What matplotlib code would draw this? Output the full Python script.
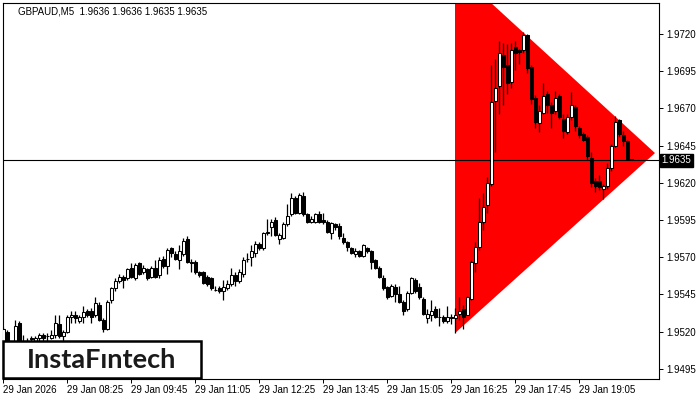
import matplotlib
matplotlib.use("Agg")
import matplotlib.pyplot as plt
import matplotlib.transforms as mtransforms
from matplotlib.patches import Polygon, Rectangle
import numpy as np

plt.rcParams["font.family"] = ["Liberation Sans", "DejaVu Sans"]

symbol = "GBPAUD,M5"
ohlc_last = ["1.9636", "1.9636", "1.9635", "1.9635"]
last_price = 1.9635

# GBPAUD M5 candles, 29 Jan 2026 from 07:05
opens = [
    1.9511, 1.9520, 1.9510, 1.9512, 1.9526, 1.9513, 1.9513, 1.9516, 1.9514, 1.9516,
    1.9518, 1.9517, 1.9516, 1.9518, 1.9525, 1.9517, 1.9520, 1.9530, 1.9531, 1.9527,
    1.9530, 1.9534, 1.9534, 1.9531, 1.9538, 1.9528, 1.9522, 1.9541, 1.9549, 1.9554,
    1.9557, 1.9556, 1.9563, 1.9556, 1.9566, 1.9560, 1.9562, 1.9557, 1.9563, 1.9558,
    1.9569, 1.9564, 1.9576, 1.9572, 1.9568, 1.9572, 1.9582, 1.9567, 1.9567, 1.9560,
    1.9560, 1.9557, 1.9556, 1.9548, 1.9549, 1.9547, 1.9549, 1.9552, 1.9558, 1.9554,
    1.9559, 1.9569, 1.9570, 1.9573, 1.9579, 1.9576, 1.9586, 1.9590, 1.9595, 1.9582,
    1.9583, 1.9592, 1.9599, 1.9610, 1.9600, 1.9611, 1.9599, 1.9594, 1.9594, 1.9599,
    1.9595, 1.9594, 1.9586, 1.9592, 1.9591, 1.9583, 1.9580, 1.9576, 1.9572, 1.9574,
    1.9571, 1.9576, 1.9574, 1.9568, 1.9563, 1.9556, 1.9550, 1.9544, 1.9550, 1.9545,
    1.9540, 1.9535, 1.9546, 1.9555, 1.9550, 1.9542, 1.9529, 1.9531, 1.9535, 1.9530,
    1.9530, 1.9527, 1.9530, 1.9529, 1.9532, 1.9535, 1.9531, 1.9542, 1.9566, 1.9577,
    1.9594, 1.9605, 1.9619, 1.9675, 1.9685, 1.9706, 1.9699, 1.9688, 1.9711, 1.9709,
    1.9709, 1.9719, 1.9698, 1.9677, 1.9660, 1.9667, 1.9680, 1.9672, 1.9668, 1.9678,
    1.9663, 1.9654, 1.9664, 1.9671, 1.9657, 1.9653, 1.9651, 1.9637, 1.9621, 1.9621,
    1.9616, 1.9618, 1.9630, 1.9645, 1.9662, 1.9652, 1.9648, 1.9636,
]
highs = [
    1.9523, 1.9521, 1.9513, 1.9528, 1.9527, 1.9518, 1.9516, 1.9517, 1.9517, 1.9519,
    1.9519, 1.9519, 1.9521, 1.9531, 1.9531, 1.9521, 1.9531, 1.9534, 1.9534, 1.9531,
    1.9537, 1.9535, 1.9536, 1.9543, 1.9540, 1.9529, 1.9541, 1.9550, 1.9556, 1.9559,
    1.9558, 1.9563, 1.9566, 1.9566, 1.9567, 1.9565, 1.9563, 1.9564, 1.9568, 1.9570,
    1.9571, 1.9576, 1.9577, 1.9574, 1.9578, 1.9583, 1.9584, 1.9569, 1.9568, 1.9561,
    1.9561, 1.9558, 1.9557, 1.9551, 1.9551, 1.9555, 1.9555, 1.9563, 1.9560, 1.9562,
    1.9570, 1.9573, 1.9578, 1.9581, 1.9580, 1.9587, 1.9596, 1.9596, 1.9597, 1.9586,
    1.9594, 1.9606, 1.9613, 1.9611, 1.9613, 1.9614, 1.9600, 1.9598, 1.9600, 1.9601,
    1.9600, 1.9595, 1.9594, 1.9593, 1.9593, 1.9586, 1.9581, 1.9577, 1.9576, 1.9575,
    1.9579, 1.9577, 1.9575, 1.9569, 1.9564, 1.9558, 1.9551, 1.9552, 1.9552, 1.9551,
    1.9541, 1.9547, 1.9557, 1.9556, 1.9553, 1.9543, 1.9535, 1.9541, 1.9537, 1.9536,
    1.9531, 1.9537, 1.9532, 1.9536, 1.9543, 1.9538, 1.9544, 1.9568, 1.9580, 1.9610,
    1.9613, 1.9624, 1.9699, 1.9703, 1.9715, 1.9714, 1.9713, 1.9714, 1.9715, 1.9710,
    1.9721, 1.9720, 1.9699, 1.9679, 1.9672, 1.9687, 1.9682, 1.9674, 1.9682, 1.9680,
    1.9666, 1.9666, 1.9681, 1.9672, 1.9658, 1.9654, 1.9652, 1.9641, 1.9623, 1.9625,
    1.9619, 1.9633, 1.9646, 1.9665, 1.9663, 1.9655, 1.9649, 1.9636,
]
lows = [
    1.9509, 1.9510, 1.9508, 1.9511, 1.9512, 1.9510, 1.9510, 1.9512, 1.9513, 1.9514,
    1.9514, 1.9513, 1.9515, 1.9516, 1.9516, 1.9514, 1.9519, 1.9526, 1.9526, 1.9526,
    1.9526, 1.9530, 1.9526, 1.9530, 1.9527, 1.9520, 1.9521, 1.9539, 1.9547, 1.9553,
    1.9549, 1.9555, 1.9556, 1.9555, 1.9558, 1.9559, 1.9555, 1.9556, 1.9556, 1.9556,
    1.9563, 1.9559, 1.9570, 1.9568, 1.9562, 1.9571, 1.9566, 1.9560, 1.9559, 1.9557,
    1.9552, 1.9551, 1.9548, 1.9547, 1.9546, 1.9541, 1.9548, 1.9551, 1.9551, 1.9553,
    1.9557, 1.9567, 1.9564, 1.9570, 1.9575, 1.9575, 1.9585, 1.9584, 1.9584, 1.9579,
    1.9582, 1.9591, 1.9598, 1.9599, 1.9599, 1.9598, 1.9593, 1.9593, 1.9593, 1.9593,
    1.9592, 1.9586, 1.9582, 1.9588, 1.9582, 1.9579, 1.9574, 1.9572, 1.9570, 1.9570,
    1.9570, 1.9573, 1.9562, 1.9562, 1.9556, 1.9548, 1.9542, 1.9543, 1.9540, 1.9539,
    1.9531, 1.9534, 1.9545, 1.9546, 1.9542, 1.9531, 1.9526, 1.9527, 1.9529, 1.9524,
    1.9526, 1.9526, 1.9525, 1.9519, 1.9528, 1.9522, 1.9531, 1.9541, 1.9560, 1.9575,
    1.9588, 1.9600, 1.9618, 1.9641, 1.9666, 1.9672, 1.9680, 1.9684, 1.9696, 1.9700,
    1.9707, 1.9694, 1.9673, 1.9657, 1.9654, 1.9666, 1.9667, 1.9657, 1.9666, 1.9663,
    1.9650, 1.9653, 1.9662, 1.9655, 1.9650, 1.9648, 1.9635, 1.9617, 1.9614, 1.9615,
    1.9609, 1.9616, 1.9628, 1.9644, 1.9651, 1.9645, 1.9635, 1.9635,
]
closes = [
    1.9522, 1.9512, 1.9512, 1.9524, 1.9514, 1.9511, 1.9512, 1.9515, 1.9516, 1.9518,
    1.9516, 1.9517, 1.9518, 1.9526, 1.9517, 1.9520, 1.9530, 1.9531, 1.9529, 1.9530,
    1.9533, 1.9531, 1.9530, 1.9539, 1.9528, 1.9522, 1.9540, 1.9549, 1.9554, 1.9557,
    1.9555, 1.9562, 1.9557, 1.9565, 1.9559, 1.9563, 1.9556, 1.9563, 1.9557, 1.9568,
    1.9564, 1.9575, 1.9573, 1.9569, 1.9574, 1.9581, 1.9567, 1.9566, 1.9560, 1.9558,
    1.9553, 1.9552, 1.9549, 1.9548, 1.9547, 1.9550, 1.9552, 1.9558, 1.9554, 1.9560,
    1.9568, 1.9569, 1.9574, 1.9579, 1.9576, 1.9586, 1.9587, 1.9594, 1.9585, 1.9585,
    1.9592, 1.9598, 1.9610, 1.9600, 1.9612, 1.9599, 1.9594, 1.9596, 1.9599, 1.9594,
    1.9594, 1.9587, 1.9593, 1.9590, 1.9584, 1.9580, 1.9577, 1.9573, 1.9574, 1.9571,
    1.9578, 1.9574, 1.9567, 1.9563, 1.9557, 1.9549, 1.9543, 1.9551, 1.9545, 1.9540,
    1.9534, 1.9546, 1.9556, 1.9547, 1.9543, 1.9532, 1.9532, 1.9534, 1.9530, 1.9530,
    1.9527, 1.9530, 1.9529, 1.9531, 1.9534, 1.9530, 1.9543, 1.9567, 1.9577, 1.9594,
    1.9604, 1.9620, 1.9674, 1.9684, 1.9707, 1.9698, 1.9687, 1.9709, 1.9707, 1.9708,
    1.9719, 1.9697, 1.9676, 1.9661, 1.9668, 1.9678, 1.9672, 1.9667, 1.9677, 1.9664,
    1.9655, 1.9664, 1.9672, 1.9658, 1.9652, 1.9649, 1.9638, 1.9620, 1.9618, 1.9617,
    1.9618, 1.9630, 1.9645, 1.9661, 1.9653, 1.9648, 1.9636, 1.9635,
]

# symmetrical triangle pattern (candle index, price)
tri_x = [112.9, 112.9, 162.9]
tri_y = [1.9763, 1.9519, 1.9640]

price_ticks = [1.9495, 1.9520, 1.9545, 1.9570, 1.9595, 1.9620, 1.9645, 1.9670, 1.9695, 1.9720]
time_ticks = [0, 16, 32, 48, 64, 80, 96, 112, 128, 144]
time_labels = ["29 Jan 2026", "29 Jan 08:25", "29 Jan 09:45", "29 Jan 11:05", "29 Jan 12:25",
               "29 Jan 13:45", "29 Jan 15:05", "29 Jan 16:25", "29 Jan 17:45", "29 Jan 19:05"]

W, H = 700, 400
fig = plt.figure(figsize=(W / 100, H / 100), dpi=100)
ax = fig.add_axes([3 / W, 21 / H, 656 / W, 376 / H])
ax.set_xlim(-0.1, 163.9)
ax.set_ylim(1.94882, 1.97408)

o = np.array(opens)
h = np.array(highs)
l = np.array(lows)
c = np.array(closes)
x = np.arange(len(o))
up = c >= o

ax.add_patch(Polygon(list(zip(tri_x, tri_y)), closed=True, facecolor="#ff0000",
                     edgecolor="none", zorder=1))
ax.axhline(last_price, color="black", linewidth=0.8, zorder=2)

ax.vlines(x, l, h, color="black", linewidth=0.9, zorder=3)
ax.bar(x[up], c[up] - o[up], bottom=o[up], width=0.72, color="white",
       edgecolor="black", linewidth=0.75, zorder=4)
ax.bar(x[~up], o[~up] - c[~up], bottom=c[~up], width=0.72, color="black",
       edgecolor="black", linewidth=0.75, zorder=4)

for s in ax.spines.values():
    s.set_linewidth(0.8)
ax.yaxis.tick_right()
ax.set_yticks(price_ticks)
ax.set_yticklabels([f"{v:.4f}" for v in price_ticks])
ax.set_xticks(time_ticks)
ax.set_xticklabels(time_labels, ha="left")
ax.tick_params(axis="y", direction="out", length=3, width=0.7, labelsize=7, pad=2)
ax.tick_params(axis="x", direction="out", length=3, width=0.7, labelsize=7, pad=1.5)

trans = mtransforms.blended_transform_factory(ax.transAxes, ax.transData)
ax.text(1.004, last_price, f"{last_price:.4f}", transform=trans, ha="left", va="center",
        color="white", fontsize=7, zorder=6,
        bbox=dict(boxstyle="square,pad=0.15", facecolor="black", edgecolor="black"))

fig.text(18 / W, 1 - 12 / H, symbol + "  " + " ".join(ohlc_last), fontsize=7,
         ha="left", va="center", color="#000000")

# logo box
fig.add_artist(Rectangle((3 / W, 1 - 378 / H), 198 / W, 37 / H, transform=fig.transFigure,
                         facecolor="white", edgecolor="black", linewidth=1.8, zorder=5))
fig.text(102 / W, 1 - 360 / H, "InstaF\u0131ntech", fontsize=19.5, ha="center", va="center",
         color="#1a1a1a", family=["Lato", "DejaVu Sans"], weight="bold", zorder=6)

fig.savefig("out.png", dpi=100)
